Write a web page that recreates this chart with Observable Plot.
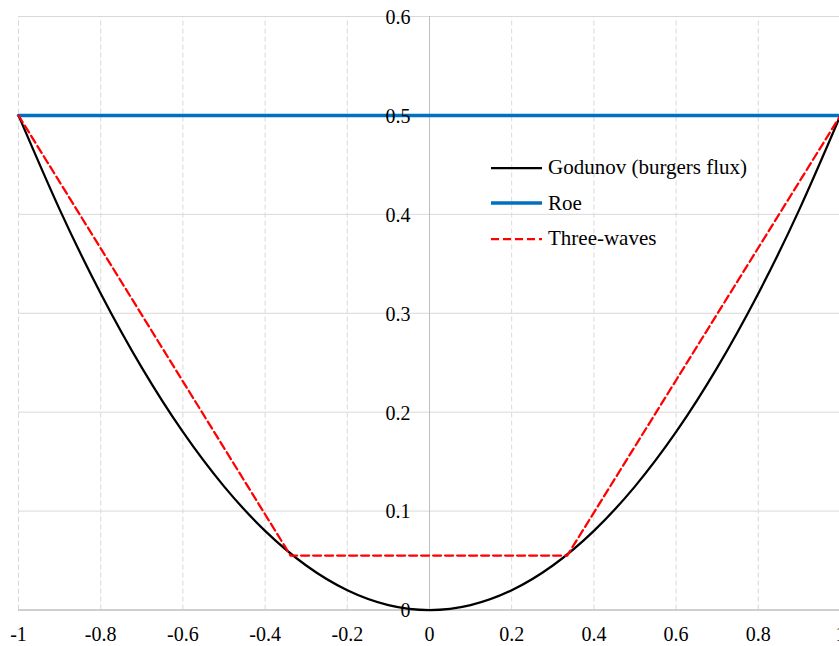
<!DOCTYPE html>
<html>
<head>
<meta charset="utf-8">
<script src="https://cdn.jsdelivr.net/npm/d3@7"></script>
<script src="https://cdn.jsdelivr.net/npm/@observablehq/plot@0.6"></script>
<style>
  html, body { margin: 0; padding: 0; background: #fff; }
  #wrap { position: relative; width: 839px; height: 646px; overflow: hidden; }
  #legend { position: absolute; left: 491px; top: 150px; font-family: "Liberation Serif", "Times New Roman", serif; font-size: 21px; color: #000; }
  #legend .row { display: flex; align-items: center; height: 35.5px; }
  #legend svg { margin-right: 6px; }
  svg text { font-family: "Liberation Serif", "Times New Roman", serif; }
</style>
</head>
<body>
<div id="wrap"><div id="chart"></div><div id="legend"></div></div>
<script>
// Data
const godunovX = [-1, -0.9, -0.8, -0.7, -0.6, -0.5, -0.4, -0.3, -0.2, -0.1, 0, 0.1, 0.2, 0.3, 0.4, 0.5, 0.6, 0.7, 0.8, 0.9, 1];
const godunovY = [0.5, 0.405, 0.32, 0.245, 0.18, 0.125, 0.08, 0.045, 0.02, 0.005, 0, 0.005, 0.02, 0.045, 0.08, 0.125, 0.18, 0.245, 0.32, 0.405, 0.5];
const roeX = [-1, 1];
const roeY = [0.5, 0.5];
const threeX = [-1, -0.338, 0.335, 1];
const threeY = [0.5, 0.055, 0.055, 0.5];
const xTicks = [-1, -0.8, -0.6, -0.4, -0.2, 0, 0.2, 0.4, 0.6, 0.8, 1];
const xTickLabels = ["-1", "-0.8", "-0.6", "-0.4", "-0.2", "0", "0.2", "0.4", "0.6", "0.8", "1"];
const yTicks = [0, 0.1, 0.2, 0.3, 0.4, 0.5, 0.6];
const yTickLabels = ["0", "0.1", "0.2", "0.3", "0.4", "0.5", "0.6"];
const seriesNames = ["Godunov (burgers flux)", "Roe", "Three-waves"];
const seriesColors = ["#000000", "#0070C0", "#FF0000"];

const godunov = godunovX.map((x, i) => ({x, y: godunovY[i]}));
const roe = roeX.map((x, i) => ({x, y: roeY[i]}));
const three = threeX.map((x, i) => ({x, y: threeY[i]}));
const xt = xTicks.map((v, i) => ({v, label: xTickLabels[i]}));
const yt = yTicks.map((v, i) => ({v, label: yTickLabels[i]}));

const font = '"Liberation Serif", "Times New Roman", serif';

const chart = Plot.plot({
  width: 839,
  height: 646,
  x: {domain: [-1, 1], range: [18, 840], axis: null},
  y: {domain: [0, 0.6], range: [609.5, 16], axis: null},
  style: {fontFamily: font, background: "#fff", overflow: "hidden"},
  marks: [
    Plot.ruleX(xTicks.filter(v => v !== 0), {stroke: "#d9d9d9", strokeWidth: 1, strokeDasharray: "5,3", y1: 0, y2: 0.6}),
    Plot.ruleY(yTicks.filter(v => v !== 0), {stroke: "#d9d9d9", strokeWidth: 1, x1: -1, x2: 1}),
    Plot.ruleX([0], {stroke: "#bfbfbf", strokeWidth: 1, y1: 0, y2: 0.6}),
    Plot.ruleY([0], {stroke: "#bfbfbf", strokeWidth: 1.5, x1: -1, x2: 1}),
    Plot.line(godunov, {x: "x", y: "y", stroke: seriesColors[0], strokeWidth: 2.25, curve: "natural"}),
    Plot.line(roe, {x: "x", y: "y", stroke: seriesColors[1], strokeWidth: 3.5}),
    Plot.line(three, {x: "x", y: "y", stroke: seriesColors[2], strokeWidth: 2.25, strokeDasharray: "8,4"}),
    Plot.text(xt, {x: "v", y: () => 0, text: "label", dy: 25, fontSize: 20, fill: "#000", textAnchor: "middle"}),
    Plot.text(yt, {x: () => 0, y: "v", text: "label", dx: -19, dy: 1, fontSize: 20, fill: "#000", textAnchor: "end"})
  ]
});
document.getElementById("chart").appendChild(chart);

const legend = document.getElementById("legend");
seriesNames.forEach((name, i) => {
  const row = document.createElement("div");
  row.className = "row";
  const dash = i === 2 ? 'stroke-dasharray="8,4"' : "";
  const sw = i === 1 ? 3.5 : 2.25;
  row.innerHTML = `<svg width="51" height="10"><line x1="0" y1="5" x2="51" y2="5" stroke="${seriesColors[i]}" stroke-width="${sw}" ${dash}/></svg><span>${name}</span>`;
  legend.appendChild(row);
});
</script>
</body>
</html>
